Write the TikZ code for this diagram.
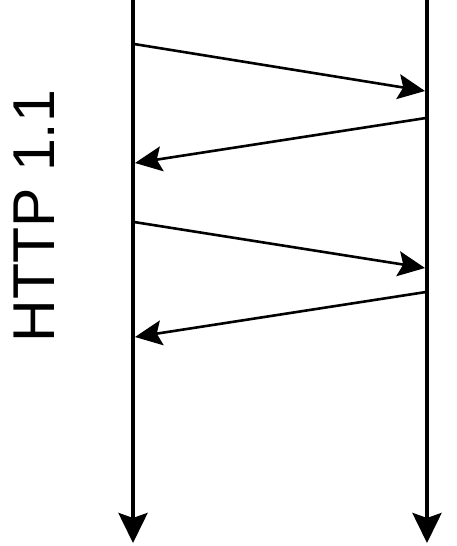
\documentclass[tikz,border=0pt]{standalone}
\usepackage{fontspec}
\setmainfont{Liberation Sans}
\usetikzlibrary{arrows.meta}
\begin{document}
\begin{tikzpicture}[x=1pt,y=-1pt,
  lifeline/.style={line width=4pt,-{Stealth[length=30pt,width=29pt,inset=5pt]}},
  msg/.style={line width=2.6pt,-{Stealth[length=27pt,width=25pt,inset=5pt]}},
  lbl/.style={font=\fontsize{59}{59}\selectfont,inner sep=0pt,rotate=90}]
\useasboundingbox (0,0) rectangle (457,546);
\coordinate (Ltop) at (133,0);
\coordinate (Lbot) at (133,543);
\coordinate (Rtop) at (427,0);
\coordinate (Rbot) at (427,543);
\draw[lifeline] (Ltop) -- (Lbot);
\draw[lifeline] (Rtop) -- (Rbot);
\coordinate (s1) at (134,44);
\coordinate (e1) at (425,91);
\coordinate (s2) at (426,118);
\coordinate (e2) at (135,163);
\coordinate (s3) at (134,222);
\coordinate (e3) at (425,268);
\coordinate (s4) at (426,292);
\coordinate (e4) at (135,337);
\draw[msg] (s1) -- (e1);
\draw[msg] (s2) -- (e2);
\draw[msg] (s3) -- (e3);
\draw[msg] (s4) -- (e4);
\node[lbl] (title) at (34,216) {HTTP 1.1};
\end{tikzpicture}
\end{document}
